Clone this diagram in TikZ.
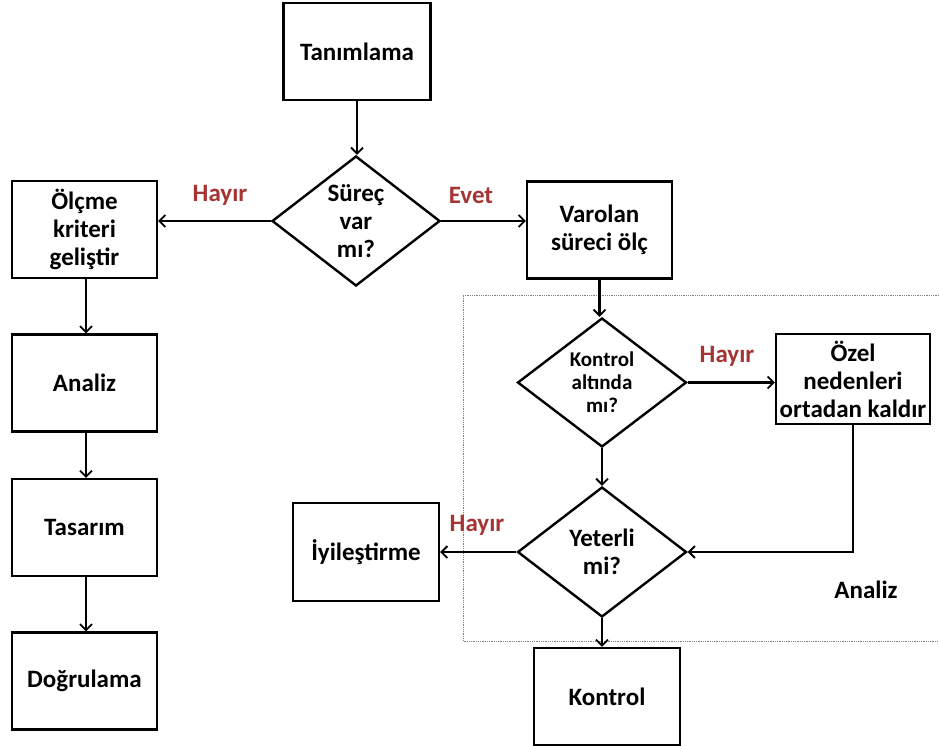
\documentclass[tikz,border=0pt]{standalone}
\usepackage{fontspec}
\setmainfont{Carlito}
\usetikzlibrary{arrows.meta,shapes.geometric}
\definecolor{lblred}{RGB}{165,52,52}
\begin{document}
\begin{tikzpicture}[x=1pt,y=-1pt,
  every node/.style={font=\bfseries\fontsize{25}{28}\selectfont, align=center, inner sep=0pt},
  box/.style={draw, line width=2.4pt, rectangle, minimum width=#1, minimum height=97},
  box/.default=145,
  dia/.style={draw, line width=2.4pt, diamond, minimum width=#1, minimum height=130, aspect=1.3},
  dia/.default=168,
  lbl/.style={text=lblred},
  arr/.style={line width=2.4pt, -{Straight Barb[length=6pt,width=12pt,line width=1.8pt]}}
]
\useasboundingbox (0,0) rectangle (939,746);
% analysis frame
\draw[gray, densely dotted, line width=0.8pt] (939,295) -- (463,295) -- (463,641) -- (939,641);
% nodes
\node[box=147] (tan) at (357,51.5) {Tanımlama};
\node[dia] (sur) at (356,221) {Süreç\\var\\mı?};
\node[box] (olc) at (84.5,229.5) {Ölçme\\kriteri\\geliştir};
\node[box] (var) at (599.5,230) {Varolan\\süreci ölç};
\node[box] (ana) at (84.5,383) {Analiz};
\node[box] (tas) at (84.5,527.5) {Tasarım};
\node[box] (dog) at (84.5,681) {Doğrulama};
\node[dia=169,font=\bfseries\fontsize{21}{23}\selectfont, minimum height=129] (kon) at (602,382.5) {Kontrol\\altında\\mı?};
\node[box=154, minimum height=90] (oze) at (853,379) {Özel\\nedenleri\\ortadan kaldır};
\node[dia=169] (yet) at (602,552) {Yeterli\\mi?};
\node[box=146, minimum height=98] (iyi) at (366,552) {İyileştirme};
\node[box=146] (ktr) at (607,696.5) {Kontrol};
\node (anl) at (866,590) {Analiz};
% labels
\node[lbl] (h1) at (220,195) {Hayır};
\node[lbl] (e1) at (471,195) {Evet};
\node[lbl] (h2) at (727,356) {Hayır};
\node[lbl] (h3) at (477,525) {Hayır};
% connectors
\draw[arr] (tan.south) -- (tan.south |- sur.north);
\draw[arr] (sur.west) -- (olc.east |- sur.west);
\draw[arr] (sur.east) -- (var.west |- sur.east);
\draw[arr] (olc.south -| 86,0) -- (ana.north -| 86,0);
\draw[arr] (ana.south -| 86,0) -- (tas.north -| 86,0);
\draw[arr] (tas.south -| 86,0) -- (dog.north -| 86,0);
\draw[arr] (var.south) -- (var.south |- kon.north);
\draw[arr] (kon.east) -- (oze.west |- kon.east);
\draw[arr] (kon.south) -- (yet.north);
\draw[arr] (oze.south) |- (yet.east);
\draw[arr] (yet.west) -- (iyi.east |- yet.west);
\draw[arr] (yet.south) -- (yet.south |- ktr.north);
\end{tikzpicture}
\end{document}
